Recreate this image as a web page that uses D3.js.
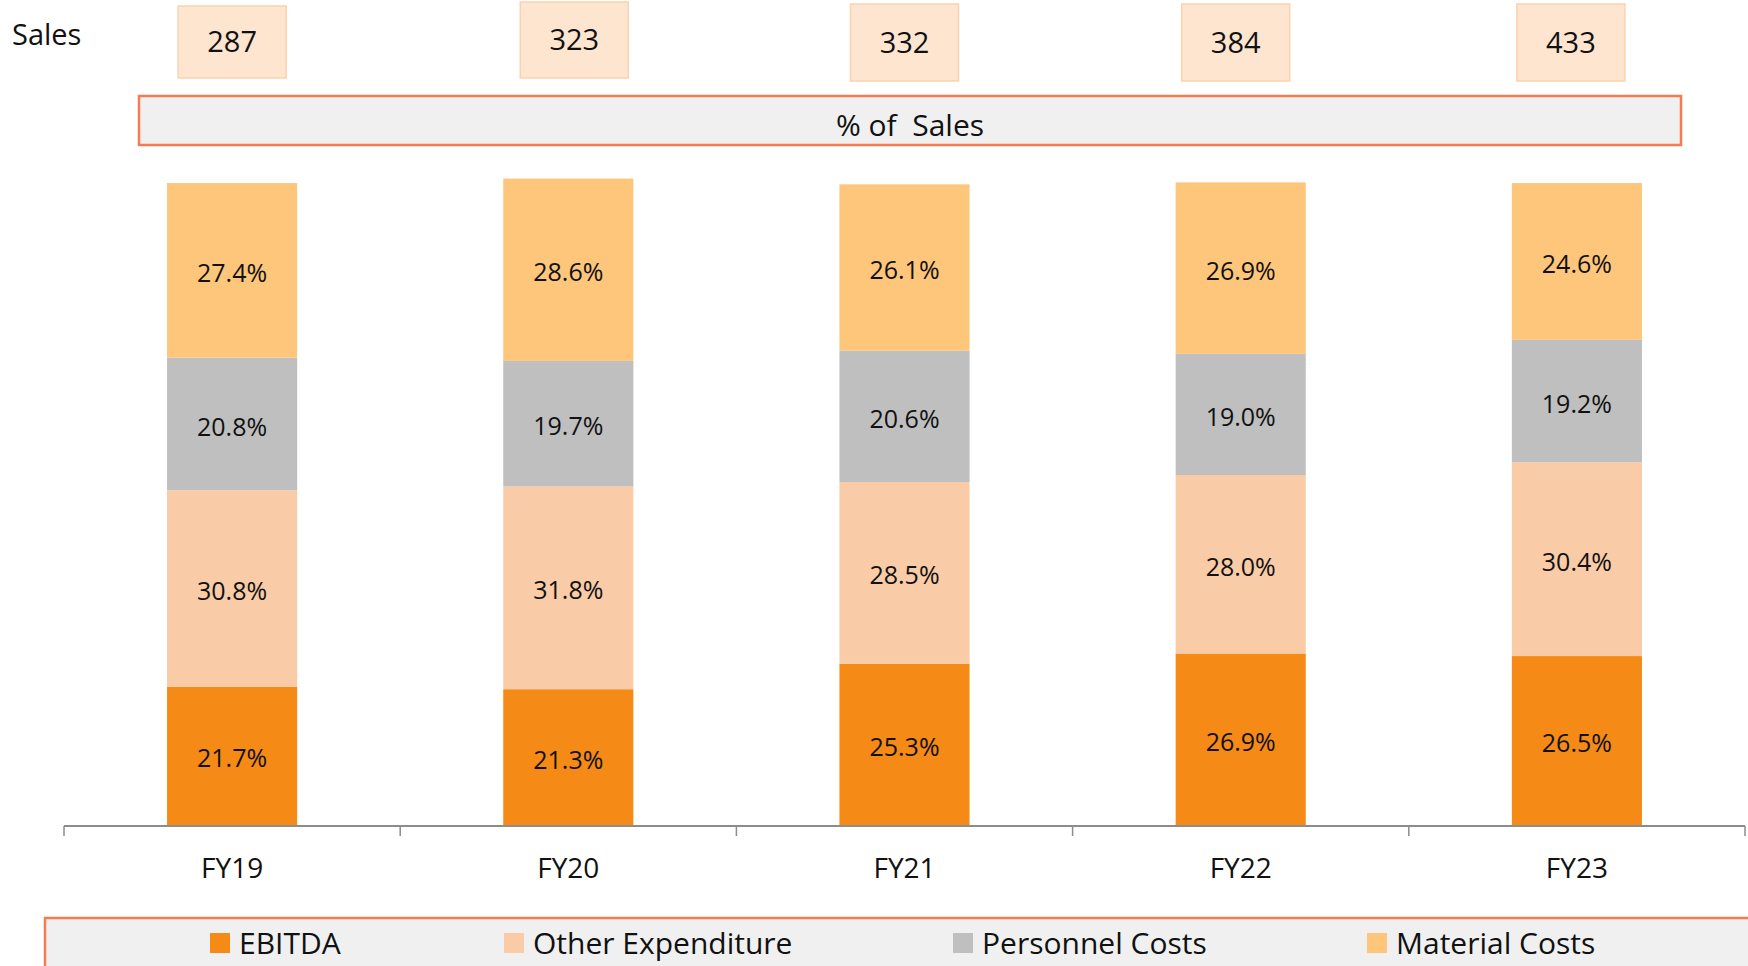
<!DOCTYPE html>
<html>
<head>
<meta charset="utf-8">
<script src="https://cdn.jsdelivr.net/npm/d3@7/dist/d3.min.js"></script>
<style>
  html, body { margin: 0; padding: 0; background: #ffffff; }
  svg { display: block; font-family: "Open Sans", "Noto Sans", sans-serif; }
</style>
</head>
<body>
<svg id="chart" width="1748" height="966"></svg>
<script>
// Fiscal years and annual sales
const categories = ["FY19", "FY20", "FY21", "FY22", "FY23"];
const sales = [287, 323, 332, 384, 433];

// Cost structure as % of sales (stacked bottom to top)
const ebitda    = [21.7, 21.3, 25.3, 26.9, 26.5];
const otherExp  = [30.8, 31.8, 28.5, 28.0, 30.4];
const personnel = [20.8, 19.7, 20.6, 19.0, 19.2];
const material  = [27.4, 28.6, 26.1, 26.9, 24.6];

const seriesNames = ["EBITDA", "Other Expenditure", "Personnel Costs", "Material Costs"];
const seriesValues = [ebitda, otherExp, personnel, material];
const seriesColors = ["#f58a17", "#f9cba6", "#bfbfbf", "#fec67a"];

const W = 1748, H = 966;
const svg = d3.select("#chart");

const x = d3.scaleBand()
  .domain(categories)
  .range([64, 1745])
  .paddingInner(0.613)
  .paddingOuter(0.3065);

const y = d3.scaleLinear()
  .domain([0, 100])
  .range([825, 187.5]);

// Stack layout
const rows = categories.map((c, i) => {
  const r = { cat: c };
  seriesNames.forEach((s, k) => { r[s] = seriesValues[k][i]; });
  return r;
});
const stacked = d3.stack().keys(seriesNames)(rows);

const layers = svg.append("g").selectAll("g.layer")
  .data(stacked)
  .join("g")
  .attr("class", "layer")
  .attr("fill", (d, k) => seriesColors[k]);

layers.selectAll("rect")
  .data(d => d)
  .join("rect")
  .attr("x", d => x(d.data.cat))
  .attr("width", x.bandwidth())
  .attr("y", d => y(d[1]))
  .attr("height", d => y(d[0]) - y(d[1]));

layers.selectAll("text")
  .data(d => d.map(v => ({ v, key: d.key })))
  .join("text")
  .attr("x", d => x(d.v.data.cat) + x.bandwidth() / 2)
  .attr("y", d => (y(d.v[0]) + y(d.v[1])) / 2)
  .attr("dy", "0.46em")
  .attr("text-anchor", "middle")
  .attr("fill", "#111")
  .style("font-size", "25px")
  .text(d => d3.format(".1f")(d.v.data[d.key]) + "%");

// Category axis: baseline, boundary ticks, labels
const axisG = svg.append("g");
const gap = x.step() - x.bandwidth();
const bounds = categories.map(c => x(c) - gap / 2).concat([x(categories[categories.length - 1]) + x.bandwidth() + gap / 2]);

axisG.append("line")
  .attr("x1", bounds[0]).attr("x2", bounds[bounds.length - 1])
  .attr("y1", y(0) + 1).attr("y2", y(0) + 1)
  .attr("stroke", "#8c8c8c").attr("stroke-width", 2);

axisG.selectAll("line.tick")
  .data(bounds)
  .join("line")
  .attr("class", "tick")
  .attr("x1", d => d).attr("x2", d => d)
  .attr("y1", y(0) + 1).attr("y2", y(0) + 11)
  .attr("stroke", "#8c8c8c").attr("stroke-width", 1.5);

axisG.selectAll("text")
  .data(categories)
  .join("text")
  .attr("x", d => x(d) + x.bandwidth() / 2)
  .attr("y", 878)
  .attr("text-anchor", "middle")
  .attr("fill", "#111")
  .style("font-size", "28px")
  .text(d => d);

// Sales row
svg.append("text")
  .attr("x", 12).attr("y", 45)
  .attr("fill", "#111")
  .style("font-size", "29px")
  .text("Sales");

// Small hand-placed nudges of the sales callouts (x shift, top, bottom)
const boxNudge = [[0, 6, 78], [6, 2, 78], [0, 4, 81], [-5, 4, 81], [-6, 4, 81]];

const salesG = svg.append("g").selectAll("g")
  .data(categories.map((c, i) => ({ c, v: sales[i], n: boxNudge[i] })))
  .join("g");

salesG.append("rect")
  .attr("x", d => x(d.c) + x.bandwidth() / 2 + d.n[0] - 54)
  .attr("y", d => d.n[1])
  .attr("width", 108)
  .attr("height", d => d.n[2] - d.n[1])
  .attr("fill", "#fde5d0")
  .attr("stroke", "#fcd2ad")
  .attr("stroke-width", 1.5);

salesG.append("text")
  .attr("x", d => x(d.c) + x.bandwidth() / 2 + d.n[0])
  .attr("y", d => (d.n[1] + d.n[2]) / 2)
  .attr("dy", "0.36em")
  .attr("text-anchor", "middle")
  .attr("fill", "#111")
  .style("font-size", "29px")
  .text(d => d.v);

// "% of Sales" banner
svg.append("rect")
  .attr("x", 139).attr("y", 96)
  .attr("width", 1542).attr("height", 49)
  .attr("fill", "#f0f0f0")
  .attr("stroke", "#f67b50")
  .attr("stroke-width", 2.5);

svg.append("text")
  .attr("x", 910).attr("y", 136)
  .attr("text-anchor", "middle")
  .attr("fill", "#111")
  .style("font-size", "30px")
  .style("white-space", "pre")
  .attr("xml:space", "preserve")
  .text("% of  Sales");

// Legend
svg.append("rect")
  .attr("x", 45).attr("y", 918)
  .attr("width", 1720).attr("height", 70)
  .attr("fill", "#f0f0f0")
  .attr("stroke", "#f67b50")
  .attr("stroke-width", 2.5);

const legendX = [210, 504, 953, 1367];
const leg = svg.append("g").selectAll("g")
  .data(seriesNames)
  .join("g")
  .attr("transform", (d, k) => `translate(${legendX[k]},0)`);

leg.append("rect")
  .attr("x", 0).attr("y", 933)
  .attr("width", 20).attr("height", 20)
  .attr("fill", (d, k) => seriesColors[k]);

leg.append("text")
  .attr("x", 29).attr("y", 954)
  .attr("fill", "#111")
  .style("font-size", "30px")
  .text(d => d);
</script>
</body>
</html>
